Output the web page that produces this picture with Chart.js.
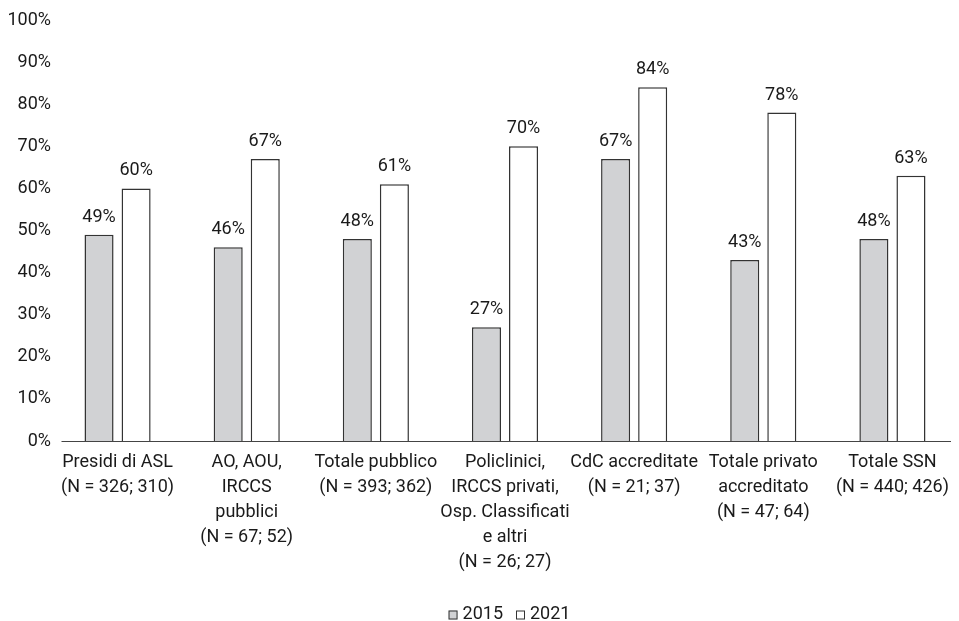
<!DOCTYPE html>
<html>
<head>
<meta charset="utf-8">
<script src="https://cdn.jsdelivr.net/npm/chart.js@4/dist/chart.umd.min.js"></script>
<style>
  html, body { margin: 0; padding: 0; background: #fff; }
  #wrap { width: 959px; height: 621px; }
</style>
</head>
<body>
<div id="wrap"><canvas id="c" width="959" height="621"></canvas></div>
<script>
// Categories (multi-line axis labels)
const categories = [
  ["Presidi di ASL", "(N = 326; 310)"],
  ["AO, AOU,", "IRCCS", "pubblici", "(N = 67; 52)"],
  ["Totale pubblico", "(N = 393; 362)"],
  ["Policlinici,", "IRCCS privati,", "Osp. Classificati", "e altri", "(N = 26; 27)"],
  ["CdC accreditate", "(N = 21; 37)"],
  ["Totale privato", "accreditato", "(N = 47; 64)"],
  ["Totale SSN", "(N = 440; 426)"]
];
const seriesNames = ["2015", "2021"];
const values2015 = [49, 46, 48, 27, 67, 43, 48];
const values2021 = [60, 67, 61, 70, 84, 78, 63];
const yTicks = [0, 10, 20, 30, 40, 50, 60, 70, 80, 90, 100];

const FONT = "Roboto, 'Liberation Sans Narrow', Arial, sans-serif";
const TEXT = "#1a1a1a";
const EDGE = "#333";

// Value labels above each bar
const valueLabels = {
  id: "valueLabels",
  afterDatasetsDraw(chart) {
    const ctx = chart.ctx;
    ctx.save();
    ctx.font = "18px " + FONT;
    ctx.fillStyle = TEXT;
    ctx.textAlign = "center";
    ctx.textBaseline = "alphabetic";
    chart.data.datasets.forEach((ds, i) => {
      chart.getDatasetMeta(i).data.forEach((bar, j) => {
        ctx.fillText(ds.data[j] + "%", bar.x, bar.y - 13);
      });
    });
    ctx.restore();
  }
};

// Horizontal baseline at 0%, slightly inset from the category band edges
const baseLine = {
  id: "baseLine",
  afterDatasetsDraw(chart) {
    const { ctx, chartArea, scales } = chart;
    const y = Math.round(scales.y.getPixelForValue(0)) + 0.5;
    ctx.save();
    ctx.strokeStyle = "#444";
    ctx.lineWidth = 1.2;
    ctx.beginPath();
    ctx.moveTo(chartArea.left + 8.5, y);
    ctx.lineTo(chartArea.right - 6, y);
    ctx.stroke();
    ctx.restore();
  }
};

// Series key under the chart: small outlined squares followed by the year
const seriesKey = {
  id: "seriesKey",
  afterDraw(chart) {
    const ctx = chart.ctx;
    const box = 9, gapText = 5, gapItem = 13;
    ctx.save();
    ctx.font = "18px " + FONT;
    ctx.textBaseline = "middle";
    ctx.textAlign = "left";
    const items = chart.data.datasets.map(ds => ({
      text: ds.label, fill: ds.backgroundColor, edge: ds.borderColor,
      w: ctx.measureText(ds.label).width
    }));
    const total = items.reduce((s, it) => s + box + gapText + it.w, 0) + gapItem * (items.length - 1);
    let x = chart.width / 2 + 30 - total / 2;
    const cy = chart.height - 7;
    items.forEach(it => {
      ctx.fillStyle = it.fill;
      ctx.fillRect(x, cy - box / 2 + 1, box, box);
      ctx.strokeStyle = it.edge;
      ctx.lineWidth = 1;
      ctx.strokeRect(x + 0.5, cy - box / 2 + 1.5, box - 1, box - 1);
      ctx.fillStyle = TEXT;
      ctx.fillText(it.text, x + box + gapText, cy);
      x += box + gapText + it.w + gapItem;
    });
    ctx.restore();
  }
};

new Chart(document.getElementById("c"), {
  type: "bar",
  data: {
    labels: categories,
    datasets: [
      {
        label: seriesNames[0],
        data: values2015,
        backgroundColor: "#d1d2d4",
        borderColor: EDGE,
        borderWidth: 1.5,
        categoryPercentage: 0.574,
        barPercentage: 0.784
      },
      {
        label: seriesNames[1],
        data: values2021,
        backgroundColor: "#ffffff",
        borderColor: EDGE,
        borderWidth: 1.5,
        categoryPercentage: 0.574,
        barPercentage: 0.784
      }
    ]
  },
  options: {
    responsive: false,
    animation: false,
    devicePixelRatio: 1,
    layout: { padding: { top: 20, right: 2, left: 0, bottom: 30 } },
    plugins: {
      legend: { display: false },
      tooltip: { enabled: false }
    },
    scales: {
      x: {
        grid: { display: false, drawTicks: false },
        border: { display: false },
        ticks: {
          color: TEXT,
          padding: 9,
          maxRotation: 0,
          autoSkip: false,
          font: { size: 18, family: FONT, lineHeight: 1.39 }
        },
        afterFit(scale) { scale.height = 150; }
      },
      y: {
        min: 0,
        max: 100,
        afterBuildTicks(scale) { scale.ticks = yTicks.map(v => ({ value: v })); },
        grid: { display: false, drawTicks: false },
        border: { display: false },
        ticks: {
          color: TEXT,
          padding: 2,
          font: { size: 18, family: FONT },
          callback: v => v + "%"
        },
        afterFit(scale) { scale.width = 53; }
      }
    }
  },
  plugins: [valueLabels, baseLine, seriesKey]
});
</script>
</body>
</html>
